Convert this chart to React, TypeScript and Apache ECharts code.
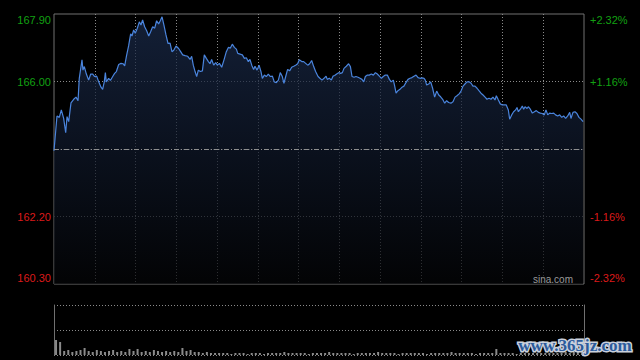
import React, { useEffect, useRef } from "react";
import * as echarts from "echarts";

// Price ticks: [minute since open, price]
const ticks: [number, number][] = [
  [0, 164.05], [2.2, 165.03], [3.9, 164.99], [5.4, 165.2], [7.1, 164.96], [8.6, 164.56], [9.6, 165.01], [10.8, 164.87],
  [12.5, 165.4], [14.5, 165.5], [16.2, 165.56], [17.7, 165.46], [18.6, 166.09], [20.6, 166.61], [21.3, 166.32], [22.3, 166.42],
  [23.8, 166.21], [25.5, 166.04], [27.0, 166.21], [28.5, 166.21], [29.9, 166.14], [31.4, 166.15], [32.9, 165.99], [34.6, 165.84],
  [35.8, 165.78], [37.0, 165.99], [37.8, 166.25], [38.5, 165.99], [40.2, 166.09], [41.5, 166.03], [43.2, 166.14], [44.6, 166.23],
  [45.9, 166.28], [47.6, 166.48], [49.3, 166.51], [50.8, 166.5], [52.0, 166.44], [53.5, 166.75], [54.9, 167.0], [56.4, 167.34],
  [57.4, 167.28], [58.6, 167.45], [59.8, 167.36], [61.3, 167.5], [62.8, 167.68], [64.0, 167.59], [65.2, 167.73], [66.7, 167.54],
  [68.2, 167.43], [69.7, 167.28], [71.1, 167.4], [72.6, 167.54], [74.1, 167.5], [75.5, 167.71], [77.0, 167.62], [78.2, 167.71],
  [79.5, 167.82], [80.9, 167.59], [82.4, 167.31], [83.9, 167.07], [85.4, 167.08], [86.8, 166.84], [88.1, 166.88], [89.8, 167.0],
  [91.7, 166.93], [93.2, 166.84], [94.7, 166.75],
  [96.4, 166.73], [98.4, 166.71], [100.1, 166.62], [101.3, 166.71], [102.5, 166.46], [103.8, 166.28], [105.0, 166.14], [106.2, 166.32],
  [107.7, 166.28], [109.2, 166.3], [110.6, 166.75], [112.1, 166.65], [113.6, 166.56], [114.8, 166.5], [116.0, 166.62], [117.5, 166.46],
  [119.0, 166.53], [120.2, 166.46], [121.7, 166.51], [123.4, 166.4], [125.1, 166.61], [126.8, 166.84], [128.3, 166.96], [129.8, 166.94],
  [131.2, 167.05], [132.7, 166.96], [134.2, 166.91], [135.2, 166.79], [136.9, 166.77], [138.6, 166.75], [140.1, 166.65], [141.5, 166.67],
  [143.0, 166.56], [144.2, 166.62], [145.5, 166.46], [146.9, 166.34], [147.9, 166.43], [149.4, 166.32], [150.9, 166.46], [152.3, 166.28],
  [153.3, 166.09], [154.8, 166.18], [156.2, 166.14], [157.7, 166.21], [159.2, 166.14], [160.7, 166.15], [162.1, 165.99], [163.6, 165.97],
  [165.1, 166.04], [166.5, 166.25], [168.0, 166.14], [169.2, 165.95], [170.5, 166.14], [171.9, 166.34], [173.4, 166.3], [174.9, 166.4],
  [176.4, 166.43], [177.8, 166.46], [179.3, 166.5], [180.5, 166.61], [182.3, 166.56], [183.7, 166.56], [185.2, 166.51], [186.7, 166.46],
  [188.1, 166.5], [189.6, 166.59], [191.1, 166.42], [192.5, 166.28],
  [194.3, 166.14], [195.7, 166.09], [197.2, 166.04], [198.7, 166.09], [200.2, 166.15], [201.1, 166.06], [202.6, 166.09], [204.1, 166.04],
  [205.3, 166.15], [206.5, 166.17], [208.0, 166.21], [209.5, 166.25], [210.9, 166.23], [212.2, 166.25], [213.4, 166.37], [215.1, 166.43],
  [216.8, 166.5], [218.1, 166.42], [219.3, 166.14], [220.8, 166.12], [222.2, 166.14], [223.7, 166.12], [225.2, 166.09], [226.6, 166.06],
  [227.9, 165.99], [229.1, 166.14], [230.6, 166.18], [232.0, 166.18], [233.5, 166.21], [235.0, 166.18], [236.5, 166.25], [237.9, 166.21],
  [239.4, 166.15], [240.9, 166.09], [242.3, 166.14], [243.8, 166.18], [245.3, 166.18], [246.8, 166.06], [248.2, 165.99], [249.7, 166.04],
  [250.7, 165.87], [251.7, 165.67], [253.1, 165.74], [254.6, 165.78], [256.1, 165.84], [257.5, 165.87], [259.0, 165.97], [260.5, 166.06],
  [262.0, 166.09], [263.4, 166.11], [264.9, 166.15], [266.4, 166.18], [267.9, 166.11], [269.3, 166.09], [270.8, 166.1], [272.3, 166.09],
  [273.2, 166.04], [274.2, 165.9], [275.7, 165.93], [277.2, 165.99], [278.6, 165.81], [280.1, 165.56], [281.6, 165.73], [283.1, 165.62],
  [284.5, 165.57], [286.0, 165.5], [287.5, 165.39], [288.9, 165.46], [290.4, 165.41],
  [292.1, 165.39], [293.6, 165.43], [295.1, 165.56], [296.5, 165.6], [298.3, 165.66], [299.5, 165.73], [301.0, 165.87], [302.4, 165.93],
  [303.9, 165.99], [305.4, 165.99], [306.9, 165.95], [308.3, 165.87], [309.8, 165.87], [311.3, 165.81], [312.7, 165.74], [314.2, 165.67],
  [315.7, 165.62], [317.2, 165.56], [318.6, 165.5], [320.1, 165.53], [321.6, 165.5], [323.0, 165.56], [324.5, 165.48], [325.5, 165.6],
  [327.0, 165.48], [328.4, 165.37], [329.9, 165.34], [331.4, 165.34], [332.8, 165.34], [334.3, 165.2], [335.3, 164.94], [336.8, 165.06],
  [338.2, 165.15], [339.7, 165.2], [340.7, 165.27], [341.7, 165.15], [343.2, 165.22], [344.6, 165.31], [345.6, 165.22], [346.6, 165.29],
  [348.1, 165.24], [349.0, 165.29], [350.5, 165.22], [352.0, 165.11], [353.5, 165.15], [354.9, 165.18], [356.4, 165.13], [357.9, 165.11],
  [359.3, 165.1], [360.8, 165.06], [362.0, 165.2], [363.3, 165.06], [364.7, 165.11], [366.2, 165.1], [367.7, 165.11], [369.1, 165.06],
  [370.6, 165.03], [372.1, 165.06], [373.6, 164.99], [375.0, 165.03], [376.5, 164.96], [378.0, 165.03], [379.5, 165.13], [380.4, 164.96],
  [381.9, 165.13], [383.4, 165.15], [384.8, 165.1], [386.3, 164.99], [387.8, 164.94], [389.3, 164.87],
];

// Volume in 3-minute bins
const volume: number[] = [
  15, 13, 4, 5, 3, 4, 5, 7, 4, 3,
  5, 4, 3, 4, 5, 3, 4, 3, 6, 4,
  6, 3, 4, 3, 5, 4, 3, 4, 3, 4,
  3, 7, 4, 5, 3, 3, 2, 3, 2, 2,
  2, 2, 2, 1, 2, 2, 2, 1, 2, 2,
  2, 1, 2, 2, 2, 2, 3, 2, 2, 2,
  2, 2, 1, 2, 2, 2, 2, 3, 2, 2,
  2, 2, 2, 1, 2, 2, 2, 2, 2, 3,
  2, 2, 2, 2, 1, 2, 2, 2, 2, 2,
  2, 1, 2, 2, 2, 2, 2, 3, 2, 2,
  2, 2, 2, 1, 2, 2, 2, 2, 6, 2,
  2, 2, 2, 1, 2, 2, 2, 2, 2, 2,
  2, 2, 2, 2, 2, 3, 2, 3, 3, 4,
];
const volumeBins: string[] = volume.map((_, i) => String(i * 3));

const prevClose = 164.1;
const priceMin = 160.3;
const priceMax = 167.9;
const priceStep = 1.9;
const sessionMinutes = 390;

const GREEN = "#12a012";
const RED = "#dc1a1a";
const FONT = "'Liberation Sans', Arial, sans-serif";

function tickIndex(v: number) {
  return Math.round((v - priceMin) / priceStep);
}

function richStyles() {
  const base = { fontSize: 11, fontFamily: FONT };
  return {
    g: { ...base, color: GREEN },
    r: { ...base, color: RED },
    gT: { ...base, color: GREEN, padding: [12, 0, 0, 0] },
    rB: { ...base, color: RED, padding: [0, 0, 12, 0] },
  };
}

function styleKey(v: number) {
  const idx = tickIndex(v);
  let key = v > prevClose ? "g" : "r";
  if (idx === 4) key = "gT";
  if (idx === 0) key = "rB";
  return key;
}

export default function App() {
  const ref = useRef<HTMLDivElement>(null);
  useEffect(() => {
    if (!ref.current) return;
    const chart = echarts.init(ref.current, undefined, { renderer: "svg" });
    const dotted = { color: "#8a8a8a", type: [1, 2] as number[], width: 1 };
    chart.setOption({
      animation: false,
      backgroundColor: "#000",
      grid: [
        { left: 54, right: 56, top: 14, height: 270, show: true, borderColor: "#707070", borderWidth: 1, backgroundColor: "transparent" },
        { left: 54, right: 56, top: 305, height: 50, show: false },
      ],
      xAxis: [
        {
          type: "value", gridIndex: 0, min: 0, max: sessionMinutes, interval: 30,
          axisLine: { show: false }, axisTick: { show: false }, axisLabel: { show: false },
          splitLine: { show: true, showMinLine: false, showMaxLine: false, lineStyle: dotted },
        },
        {
          type: "category", gridIndex: 1, data: volumeBins,
          axisLine: { show: false }, axisTick: { show: false }, axisLabel: { show: false }, splitLine: { show: false },
        },
      ],
      yAxis: [
        {
          type: "value", gridIndex: 0, position: "left", min: priceMin, max: priceMax, interval: priceStep,
          axisLine: { show: false }, axisTick: { show: false },
          splitLine: { show: true, showMinLine: false, showMaxLine: false, lineStyle: dotted },
          axisLabel: {
            margin: 3,
            formatter: (v: number) => {
              if (tickIndex(v) === 2) return "";
              return `{${styleKey(v)}|${v.toFixed(2)}}`;
            },
            rich: richStyles(),
          },
        },
        {
          type: "value", gridIndex: 0, position: "right", min: priceMin, max: priceMax, interval: priceStep,
          axisLine: { show: false }, axisTick: { show: false }, splitLine: { show: false },
          axisLabel: {
            margin: 6,
            formatter: (v: number) => {
              if (tickIndex(v) === 2) return "";
              const pct = ((v - prevClose) / prevClose) * 100;
              const txt = (pct > 0 ? "+" : "-") + Math.abs(pct).toFixed(2) + "%";
              return `{${styleKey(v)}|${txt}}`;
            },
            rich: richStyles(),
          },
        },
        {
          type: "value", gridIndex: 1, position: "left", min: 0, max: 50, interval: 25,
          axisLine: { show: true, lineStyle: { color: "#707070" } }, axisTick: { show: false }, axisLabel: { show: false },
          splitLine: { show: true, lineStyle: dotted },
        },
        {
          type: "value", gridIndex: 1, position: "right", min: 0, max: 50, interval: 25,
          axisLine: { show: true, lineStyle: { color: "#707070" } }, axisTick: { show: false }, axisLabel: { show: false },
          splitLine: { show: false },
        },
      ],
      series: [
        {
          type: "line", xAxisIndex: 0, yAxisIndex: 0, data: ticks, showSymbol: false, symbol: "none",
          lineStyle: { color: "#4a84dc", width: 1.2 },
          areaStyle: {
            origin: "start",
            color: new echarts.graphic.LinearGradient(0, 0, 0, 1, [
              { offset: 0, color: "#1b2c4d" },
              { offset: 0.5, color: "#0f182a" },
              { offset: 1, color: "#040507" },
            ]),
          },
          markLine: {
            silent: true, symbol: "none", label: { show: false },
            lineStyle: { color: "#8f8f8f", type: [5, 2, 1, 2], width: 1 },
            data: [{ yAxis: prevClose }],
          },
          z: 3,
        },
        {
          type: "bar", xAxisIndex: 1, yAxisIndex: 2, data: volume, barWidth: 2,
          itemStyle: { color: "#8a8a8a" },
        },
      ],
      graphic: [
        {
          type: "text", x: 573, y: 279, z: 10,
          style: { text: "sina.com", fill: "#9a9a9a", font: `10px ${FONT}`, align: "right", verticalAlign: "middle" },
        },
        {
          type: "text", x: 575, y: 345, z: 20,
          style: { text: "www.365jz.com", fill: "#c9d0dc", stroke: "#c9d0dc", lineWidth: 3, font: "bold 17px 'Liberation Serif', serif", align: "center", verticalAlign: "middle" },
        },
        {
          type: "text", x: 575, y: 345, z: 21,
          style: { text: "www.365jz.com", fill: "#2c5b9c", font: "bold 17px 'Liberation Serif', serif", align: "center", verticalAlign: "middle" },
        },
      ],
    });
    return () => chart.dispose();
  }, []);
  return (
    <div
      ref={ref}
      style={{ position: "fixed", left: 0, top: 0, width: 640, height: 360, background: "#000" }}
    />
  );
}
